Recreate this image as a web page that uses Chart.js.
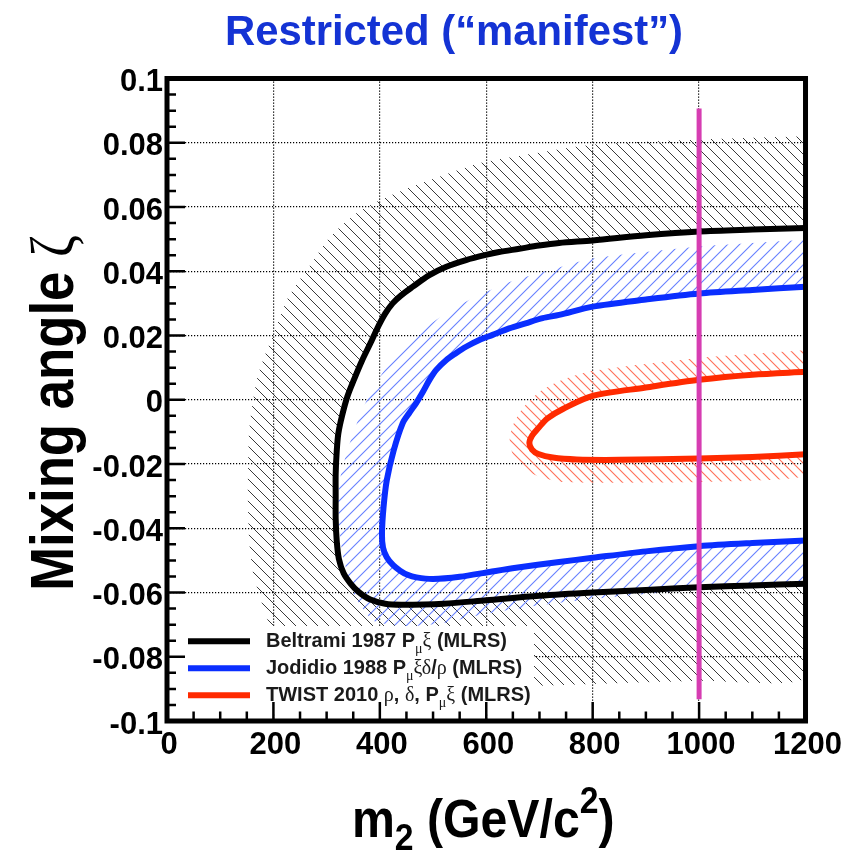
<!DOCTYPE html>
<html>
<head>
<meta charset="utf-8">
<title>Restricted (“manifest”) – mixing angle vs m2</title>
<script src="https://cdn.jsdelivr.net/npm/chart.js@4.4.1/dist/chart.umd.min.js"></script>
<style>
  html, body { margin: 0; padding: 0; background: #ffffff; }
  #wrap { width: 846px; height: 852px; }
</style>
</head>
<body>
<div id="wrap"><canvas id="plot" width="846" height="852"></canvas></div>
<script>
// ---- axis ticks --------------------------------------------------------
const xTicks = [0, 200, 400, 600, 800, 1000, 1200];
const xTickLabels = ['0', '200', '400', '600', '800', '1000', '1200'];
const yTicks = [-0.1, -0.08, -0.06, -0.04, -0.02, 0, 0.02, 0.04, 0.06, 0.08, 0.1];
const yTickLabels = ['-0.1', '-0.08', '-0.06', '-0.04', '-0.02', '0', '0.02', '0.04', '0.06', '0.08', '0.1'];

// ---- titles and legend text (ROOT-like markup: _{sub}, ^{sup}) ----------
const chartTitle = 'Restricted (“manifest”)';
const xTitle = 'm_{2} (GeV/c^{2})';
const yTitle = 'Mixing angle ζ';
const seriesLabels = [
  'Beltrami 1987 P_{μ}ξ (MLRS)',
  'Jodidio 1988 P_{μ}ξδ/ρ (MLRS)',
  'TWIST 2010 ρ, δ, P_{μ}ξ (MLRS)'
];

// ---- Beltrami 1987: 90% CL contour, upper branch -> left edge -> lower branch
const beltramiX = [1200, 1100, 1000, 900, 800, 737, 699, 662, 624, 599, 562, 525, 493, 462, 440, 424, 410, 396, 382, 366, 352, 339, 329, 322, 319, 317, 317, 317, 319, 323, 332, 345, 360, 382, 410, 440, 520, 600, 700, 800, 900, 1000, 1100, 1200];
const beltramiY = [0.0535, 0.0530, 0.0524, 0.0512, 0.0496, 0.0488, 0.0480, 0.0470, 0.0460, 0.0451, 0.0435, 0.0414, 0.0388, 0.0352, 0.0325, 0.0300, 0.0268, 0.0225, 0.0175, 0.0120, 0.0065, 0.0010, -0.0050, -0.0105, -0.0160, -0.0230, -0.0300, -0.0370, -0.0440, -0.0495, -0.0540, -0.0572, -0.0598, -0.0622, -0.0635, -0.0638, -0.0635, -0.0624, -0.0610, -0.0600, -0.0592, -0.0584, -0.0578, -0.0573];
// outer edge of the excluded (hatched) side
const beltramiBandX = [1200, 1000, 800, 700, 588, 513, 455, 401, 360, 326, 298, 276, 250, 226, 201, 182, 170, 160, 154, 152, 155, 162, 177, 195, 230, 280, 350, 450, 600, 800, 1000, 1200];
const beltramiBandY = [0.0820, 0.0810, 0.0794, 0.0770, 0.0737, 0.0695, 0.0660, 0.0622, 0.0585, 0.0539, 0.0490, 0.0435, 0.0375, 0.0313, 0.0207, 0.0130, 0.0071, -0.0020, -0.0105, -0.0314, -0.0450, -0.0540, -0.0626, -0.0709, -0.0780, -0.0835, -0.0865, -0.0885, -0.0895, -0.0885, -0.0875, -0.0866];

// ---- Jodidio 1988 ------------------------------------------------------
const jodidioX = [1200, 1100, 1000, 900, 800, 737, 706, 674, 643, 612, 587, 562, 543, 525, 506, 493, 481, 468, 455, 443, 426, 413, 407, 404, 406, 413, 425, 438, 452, 469, 500, 550, 606, 656, 737, 800, 900, 1000, 1100, 1200];
const jodidioY = [0.0352, 0.0342, 0.0331, 0.0312, 0.0290, 0.0264, 0.0254, 0.0238, 0.0222, 0.0202, 0.0186, 0.0165, 0.0145, 0.0124, 0.0093, 0.0061, 0.0025, -0.0011, -0.0042, -0.0073, -0.0158, -0.0251, -0.0334, -0.0418, -0.0460, -0.0490, -0.0515, -0.0532, -0.0545, -0.0553, -0.0558, -0.0551, -0.0536, -0.0523, -0.0505, -0.0492, -0.0472, -0.0456, -0.0446, -0.0438];
const jodidioBandX = [1200, 1000, 800, 731, 637, 550, 490, 444, 410, 385, 360, 339, 326, 322, 324, 330, 351, 388, 450, 520, 588, 700, 800, 1000, 1200];
const jodidioBandY = [0.0498, 0.0477, 0.0440, 0.0409, 0.0362, 0.0295, 0.0230, 0.0165, 0.0095, 0.0030, -0.0060, -0.0158, -0.0240, -0.0310, -0.0400, -0.0480, -0.0605, -0.0688, -0.0705, -0.0695, -0.0670, -0.0640, -0.0620, -0.0590, -0.0560];

// ---- TWIST 2010 --------------------------------------------------------
const twistX = [1200, 1100, 1000, 900, 800, 745, 715, 698, 686, 681, 686, 698, 725, 770, 850, 1000, 1100, 1200];
const twistY = [0.0087, 0.0078, 0.0062, 0.0038, 0.0012, -0.0028, -0.0058, -0.0088, -0.0112, -0.0135, -0.0155, -0.0169, -0.0180, -0.0186, -0.0187, -0.0183, -0.0178, -0.0170];
const twistBandX = [1200, 1000, 800, 740, 700, 669, 650, 644, 650, 669, 700, 737, 800, 1000, 1200];
const twistBandY = [0.0154, 0.0130, 0.0090, 0.0060, 0.0025, -0.0025, -0.0080, -0.0125, -0.0170, -0.0215, -0.0240, -0.0255, -0.0258, -0.0256, -0.0238];

// ---- m2 = 1000 GeV/c^2 marker --------------------------------------------
const markerX = [1000, 1000];
const markerY = [0.0907, -0.0932];

// ------------------------------------------------------------------------
const sansFamily = "'Liberation Sans', Arial, Helvetica, sans-serif";
const greekFamily = "'Liberation Serif', 'DejaVu Serif', serif";
const greekRe = /[\u0370-\u03ff]/;

const canvas = document.getElementById('plot');
const ctx0 = canvas.getContext('2d');

// diagonal hatch pattern; 'back' = "\\\\", 'fwd' = "////"
function hatch(color, step, dir, lw) {
  const c = document.createElement('canvas');
  c.width = step; c.height = step;
  const g = c.getContext('2d');
  g.strokeStyle = color;
  g.lineWidth = lw;
  g.beginPath();
  if (dir === 'back') {
    g.moveTo(-1, -1); g.lineTo(step + 1, step + 1);
    g.moveTo(-1, step - 1); g.lineTo(1, step + 1);
    g.moveTo(step - 1, -1); g.lineTo(step + 1, 1);
  } else {
    g.moveTo(-1, step + 1); g.lineTo(step + 1, -1);
    g.moveTo(-1, 1); g.lineTo(1, -1);
    g.moveTo(step - 1, step + 1); g.lineTo(step + 1, step - 1);
  }
  g.stroke();
  return ctx0.createPattern(c, 'repeat');
}

const toPoints = (xs, ys) => xs.map((x, i) => ({ x, y: ys[i] }));
const bandPoints = (outX, outY, inX, inY) =>
  toPoints(outX.concat(inX.slice().reverse()), outY.concat(inY.slice().reverse()));

function band(outX, outY, inX, inY, pattern, order) {
  return {
    data: bandPoints(outX, outY, inX, inY),
    showLine: true, fill: 'shape', backgroundColor: pattern,
    borderColor: 'rgba(0,0,0,0)', borderWidth: 0, pointRadius: 0, tension: 0.2, order
  };
}
function contour(label, xs, ys, color, order) {
  return {
    label, legend: true,
    data: toPoints(xs, ys),
    showLine: true, fill: false, borderColor: color, backgroundColor: color,
    borderWidth: 6, pointRadius: 0, tension: 0.3, order,
    borderCapStyle: 'butt', borderJoinStyle: 'round'
  };
}

// ---- rich text (sub/superscripts, Greek in a serif face) ---------------
function parseRich(text) {
  const runs = [];
  const push = (s, lvl) => {
    let cur = '', g = null;
    for (const ch of s) {
      const isG = greekRe.test(ch);
      if (g !== null && isG !== g) { runs.push({ s: cur, lvl, greek: g }); cur = ''; }
      cur += ch; g = isG;
    }
    if (cur) runs.push({ s: cur, lvl, greek: g });
  };
  let i = 0, buf = '';
  while (i < text.length) {
    const c = text[i];
    if ((c === '_' || c === '^') && text[i + 1] === '{') {
      if (buf) { push(buf, 0); buf = ''; }
      const end = text.indexOf('}', i);
      push(text.slice(i + 2, end), c === '_' ? -1 : 1);
      i = end + 1;
    } else { buf += c; i++; }
  }
  if (buf) push(buf, 0);
  return runs;
}
function runFont(r, size, weight) {
  const s = r.lvl ? size * 0.7 : size;
  return r.greek ? `normal ${s}px ${greekFamily}` : `${weight} ${s}px ${sansFamily}`;
}
function drawRich(ctx, text, x, y, size, o) {
  const runs = parseRich(text);
  let w = 0;
  for (const r of runs) { ctx.font = runFont(r, size, o.weight); r.w = ctx.measureText(r.s).width; w += r.w; }
  let cx = o.align === 'center' ? x - w / 2 : x;
  ctx.fillStyle = o.color;
  ctx.textAlign = 'left';
  ctx.textBaseline = 'alphabetic';
  for (const r of runs) {
    ctx.font = runFont(r, size, o.weight);
    const dy = r.lvl < 0 ? size * o.sub : (r.lvl > 0 ? -size * o.sup : 0);
    ctx.fillText(r.s, cx, y + dy);
    cx += r.w;
  }
}

// ---- frame, inward ticks and the legend box -------------------------------
const framePlugin = {
  id: 'framePlugin',
  afterDatasetsDraw(chart) {
    const { ctx, chartArea: a, scales } = chart;
    ctx.save();

    // legend with an opaque white box
    const entries = chart.data.datasets.filter(d => d.legend);
    ctx.fillStyle = '#ffffff';
    ctx.fillRect(176, 626, 358, 88);
    entries.forEach((d, i) => {
      const base = 646.7 + i * 27;
      ctx.strokeStyle = d.borderColor;
      ctx.lineWidth = 6;
      ctx.lineCap = 'butt';
      ctx.beginPath();
      ctx.moveTo(188, base - 5.5);
      ctx.lineTo(250, base - 5.5);
      ctx.stroke();
      drawRich(ctx, d.label, 266, base, 20, { weight: 'bold', color: '#1a1a1a', sub: 0.3, sup: 0.4 });
    });

    // ticks (inside the frame, left and bottom axes only)
    ctx.strokeStyle = '#000000';
    ctx.lineWidth = 2.5;
    ctx.lineCap = 'butt';
    ctx.beginPath();
    const ys = scales.y, xs = scales.x;
    for (let i = 0; i < yTicks.length; i++) {
      const p = ys.getPixelForValue(yTicks[i]);
      ctx.moveTo(a.left, p); ctx.lineTo(a.left + 18, p);
      if (i < yTicks.length - 1) {
        const step = (yTicks[i + 1] - yTicks[i]) / 4;
        for (let k = 1; k < 4; k++) {
          const q = ys.getPixelForValue(yTicks[i] + k * step);
          ctx.moveTo(a.left, q); ctx.lineTo(a.left + 9, q);
        }
      }
    }
    for (let i = 0; i < xTicks.length; i++) {
      const p = xs.getPixelForValue(xTicks[i]);
      ctx.moveTo(p, a.bottom); ctx.lineTo(p, a.bottom - 19);
      if (i < xTicks.length - 1) {
        const step = (xTicks[i + 1] - xTicks[i]) / 4;
        for (let k = 1; k < 4; k++) {
          const q = xs.getPixelForValue(xTicks[i] + k * step);
          ctx.moveTo(q, a.bottom); ctx.lineTo(q, a.bottom - 9.5);
        }
      }
    }
    ctx.stroke();

    // frame
    ctx.lineWidth = 5;
    ctx.strokeRect(a.left, a.top, a.right - a.left, a.bottom - a.top);
    ctx.restore();
  }
};

// ---- heading and axis titles -------------------------------------------
const titlePlugin = {
  id: 'titlePlugin',
  afterDraw(chart) {
    const { ctx, chartArea: a } = chart;
    ctx.save();
    ctx.translate(454, 45);
    ctx.scale(0.973, 1);
    drawRich(ctx, chartTitle, 0, 0, 43, { align: 'center', weight: 'bold', color: '#1433d4', sub: 0.25, sup: 0.45 });
    ctx.restore();

    ctx.save();
    ctx.translate((a.left + a.right) / 2 - 3, 836.5);
    ctx.scale(0.91, 1);
    drawRich(ctx, xTitle, 0, 0, 53, { align: 'center', weight: 'bold', color: '#000000', sub: 0.25, sup: 0.45 });
    ctx.restore();

    ctx.save();
    ctx.translate(73, 413);
    ctx.rotate(-Math.PI / 2);
    ctx.scale(0.85, 1);
    drawRich(ctx, yTitle, 0, 0, 62, { align: 'center', weight: 'bold', color: '#000000', sub: 0.25, sup: 0.45 });
    ctx.restore();
  }
};

const tickFont = { family: sansFamily, size: 31, weight: 'bold' };

new Chart(ctx0, {
  type: 'scatter',
  data: {
    datasets: [
      { label: 'm2 = 1000', data: toPoints(markerX, markerY), showLine: true, fill: false,
        borderColor: '#d63db2', borderWidth: 5, pointRadius: 0, tension: 0, order: 0, borderCapStyle: 'butt' },
      contour(seriesLabels[0], beltramiX, beltramiY, '#000000', 3),
      contour(seriesLabels[1], jodidioX, jodidioY, '#0a2eff', 2),
      contour(seriesLabels[2], twistX, twistY, '#ff2a00', 1),
      band(twistBandX, twistBandY, twistX, twistY, hatch('#ff7058', 10, 'back', 1.1), 4),
      band(jodidioBandX, jodidioBandY, jodidioX, jodidioY, hatch('#6680ff', 12, 'fwd', 1.1), 5),
      band(beltramiBandX, beltramiBandY, beltramiX, beltramiY, hatch('#3a3a3a', 11, 'back', 1.0), 6)
    ]
  },
  options: {
    responsive: false,
    animation: false,
    devicePixelRatio: 1,
    events: [],
    layout: { padding: { top: 78.5, right: 39, bottom: 0, left: 0 } },
    plugins: { legend: { display: false }, tooltip: { enabled: false }, title: { display: false } },
    scales: {
      x: {
        type: 'linear', min: 0, max: 1200,
        afterBuildTicks: s => { s.ticks = xTicks.map(v => ({ value: v })); },
        afterFit: s => { s.height = 131; },
        grid: { color: '#000000', lineWidth: 1.2, drawTicks: false },
        border: { display: false, dash: [1.2, 1.8] },
        ticks: { callback: v => xTickLabels[xTicks.indexOf(v)], font: tickFont, color: '#000000',
                 padding: 6, labelOffset: 2, maxRotation: 0, autoSkip: false }
      },
      y: {
        type: 'linear', min: -0.1, max: 0.1,
        afterBuildTicks: s => { s.ticks = yTicks.map(v => ({ value: v })); },
        afterFit: s => { s.width = 167; },
        grid: { color: '#000000', lineWidth: 1.2, drawTicks: false },
        border: { display: false, dash: [1.2, 1.8] },
        ticks: { callback: v => yTickLabels[yTicks.indexOf(v)], font: tickFont, color: '#000000',
                 padding: 4, labelOffset: 4, autoSkip: false }
      }
    }
  },
  plugins: [framePlugin, titlePlugin]
});
</script>
</body>
</html>
